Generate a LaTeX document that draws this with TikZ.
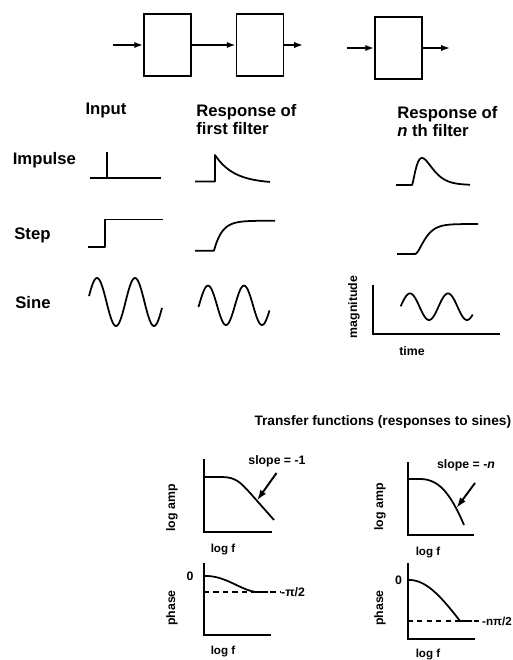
\documentclass[tikz,border=0pt]{standalone}
\usepackage{fontspec}
\setmainfont{Liberation Sans}
\usepackage{tikz}
\usetikzlibrary{arrows.meta, positioning, calc}
\newcommand{\headfont}{\fontsize{9.5}{10.5}\selectfont\bfseries}
\newcommand{\titlefont}{\fontsize{7.8}{9}\selectfont\bfseries}
\newcommand{\axfont}{\fontsize{7}{8}\selectfont\bfseries}
\newcommand{\logffont}{\fontsize{6.6}{7.5}\selectfont\bfseries}

\begin{document}
\begin{tikzpicture}[x=0.02cm, y=-0.02cm,
    filterbox/.style={draw, line width=1.1pt, minimum width=0.94cm, minimum height=1.24cm, inner sep=0pt},
    sigarrow/.style={line width=1pt, -{Latex[length=5pt,width=3.6pt]}},
    wave/.style={line width=1pt, line join=round},
    axisline/.style={line width=1pt},
    refline/.style={line width=0.8pt, dash pattern=on 3pt off 2.4pt},
    pointer/.style={line width=1.1pt, -{Latex[length=6pt,width=4pt]}}]
  \useasboundingbox (0,0) rectangle (513,660);

  % --- Top: filter chain ---
  \node[filterbox] (filterA) at (167.5,45) {};
  \node[filterbox] (filterB) at (260,45) {};
  \node[filterbox] (filterN) at (398.5,48) {};
  \coordinate (inA) at (112.5,45);
  \coordinate (outB) at (303,45);
  \coordinate (inN) at (346.5,48);
  \coordinate (outN) at (450,48);
  \draw[sigarrow] (inA) -- (filterA);
  \draw[sigarrow] (filterA) -- (filterB);
  \draw[sigarrow] (filterB) -- (outB);
  \draw[sigarrow] (inN) -- (filterN);
  \draw[sigarrow] (filterN) -- (outN);

  % Column headers
  \node[font=\headfont] (hInput) at (106,110) {Input};
  \node[font=\headfont, align=left, anchor=north west, inner sep=0pt] (hFirst) at (196,104) {Response of\\first filter};
  \node[font=\headfont, align=left, anchor=north west, inner sep=0pt] (hNth) at (397,106) {Response of\\\textit{n} th filter};

  % Row labels
  \node[font=\headfont, anchor=west, inner sep=0pt] (rImpulse) at (12.5,160) {Impulse};
  \node[font=\headfont, anchor=west, inner sep=0pt] (rStep) at (14,235) {Step};
  \node[font=\headfont, anchor=west, inner sep=0pt] (rSine) at (15,303) {Sine};

  % --- Input column ---
  \draw[wave] (90,178) -- (161,178);
  \draw[wave] (106.7,178) -- (106.7,152);
  \draw[wave] (88,247) -- (105,247) -- (105,219.5) -- (163,219.5);
  \draw[wave] plot[domain=89:162, samples=90, smooth] (\x, {302-24*sin((\x-87.5)/38*360)});

  % --- First filter column ---
  \draw[wave] (195,181.5) -- (215,181.5) -- (215,155)
    -- plot[domain=215:270, samples=50, smooth] (\x, {183.5-28.5*exp(-(\x-215)/19)});
  \draw[wave] (195,250.7) -- (214,250.7)
    -- plot[domain=214:275, samples=60, smooth] (\x, {250.7-30*(1-exp(-(\x-214)/8))});
  \draw[wave] plot[domain=198.5:269.5, samples=90, smooth] (\x, {305.3-19.7*sin((\x-199)/36*360)});

  % --- n-th filter column ---
  \draw[wave] (396,185) -- (412,185)
    -- plot[domain=412:470, samples=70, smooth] (\x, {185-27*((\x-412)/10*exp(1-(\x-412)/10))*sqrt((\x-412)/10*exp(1-(\x-412)/10))});
  \draw[wave] (397,254) -- (415,254)
    -- plot[domain=415:478, samples=70, smooth] (\x, {254-30*(1-exp(-(\x-415)/6)*(1+(\x-415)/6))});
  \draw[axisline] (372.7,285) -- (372.7,334) -- (500,334);
  \draw[wave] plot[domain=400.7:472.7, samples=90, smooth] (\x, {306.7-13.3*sin((\x-400.5)/38*360)});
  \node[font=\axfont, rotate=90] (lMag) at (354,307) {magnitude};
  \node[font=\axfont] (lTime) at (412,351) {time};

  % --- Transfer functions ---
  \node[font=\titlefont, anchor=east, inner sep=0pt] (hTransfer) at (511.5,421.5) {Transfer functions (responses to sines)};

  % first filter, amplitude
  \draw[axisline] (204,459) -- (204,532) -- (272,532);
  \draw[wave] (204,477) -- (222,477) .. controls (236,477) and (241,483) .. (251,494) -- (274,520);
  \coordinate (slopeA) at (257,500.5);
  \node[font=\axfont] (lSlopeA) at (277,461.5) {slope = -1};
  \draw[pointer] (276.5,473) -- (slopeA);
  \node[font=\axfont, rotate=90] (lAmpA) at (172,508) {log amp};
  \node[font=\logffont] (lFreqA) at (223,550) {log f};

  % first filter, phase
  \draw[axisline] (204,563) -- (204,635) -- (271,635);
  \draw[refline] (204,592) -- (280,592);
  \draw[wave] (204,576) .. controls (225,575) and (240,590) .. (256,592) -- (268,592);
  \node[font=\axfont] (lZeroA) at (190,576) {0};
  \node[font=\axfont, anchor=west, inner sep=0.5pt] (lHalfPi) at (280,592) {-π/2};
  \node[font=\axfont, rotate=90] (lPhaseA) at (172,608) {phase};
  \node[font=\logffont] (lFreqB) at (223,652) {log f};

  % n-th filter, amplitude
  \draw[axisline] (407.7,462) -- (407.7,535) -- (474,535);
  \draw[wave] (407.7,479) -- (420,479) .. controls (438,479) and (450,492) .. (464,525);
  \coordinate (slopeN) at (456.5,508);
  \node[font=\axfont] (lSlopeN) at (466,465) {slope = -\textit{n}};
  \draw[pointer] (475,483) -- (slopeN);
  \node[font=\axfont, rotate=90] (lAmpN) at (380,507) {log amp};
  \node[font=\logffont] (lFreqC) at (428,553) {log f};

  % n-th filter, phase
  \draw[axisline] (407.7,563) -- (407.7,639) -- (475,639);
  \draw[refline] (407.7,621) -- (481,621);
  \draw[wave] (407.7,580) .. controls (425,579) and (440,595) .. (460,621) -- (472,621);
  \node[font=\axfont] (lZeroN) at (398.5,580) {0};
  \node[font=\logffont, anchor=west, inner sep=0.5pt] (lNHalfPi) at (481,621) {-nπ/2};
  \node[font=\axfont, rotate=90] (lPhaseN) at (380,608) {phase};
  \node[font=\logffont] (lFreqD) at (428,655) {log f};
\end{tikzpicture}
\end{document}
